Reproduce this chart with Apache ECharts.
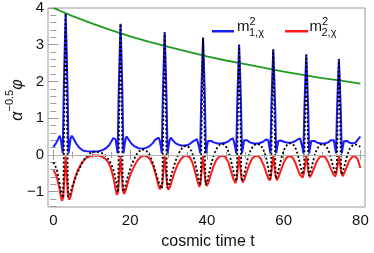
<!DOCTYPE html>
<html><head><meta charset="utf-8">
<script src="https://cdn.jsdelivr.net/npm/echarts@6/dist/echarts.min.js"></script>
<style>html,body{margin:0;padding:0;background:#fff}#c{width:374px;height:253px}</style>
</head><body><div id="c"></div>
<script>
// ---- tick values ----
const xMajor = [0, 20, 40, 60, 80];
const xMinor = [5, 10, 15, 25, 30, 35, 45, 50, 55, 65, 70, 75];
const yMajor = [-1, 0, 1, 2, 3, 4];
const yMinor = [-1.4, -1.2, -0.8, -0.6, -0.4, -0.2, 0.2, 0.4, 0.6, 0.8, 1.2, 1.4, 1.6, 1.8, 2.2, 2.4, 2.6, 2.8, 3.2, 3.4, 3.6, 3.8];

// ---- series data [t, value] ----
const envelope = [[0,4.00],[5,3.78],[10,3.58],[15,3.40],[20,3.23],[25,3.08],[30,2.94],[35,2.81],[40,2.68],[45,2.57],[50,2.47],[55,2.37],[60,2.27],[65,2.18],[70,2.09],[75,2.02],[80,1.94]];

const m1 = [[0,0.22],[0.6,0.3],[1.2,0.42],[1.6,0.52],[1.9,0.45],[2.2,0.22],[2.45,0.04],[2.7,1.73],[2.95,2.89],[3.2,3.85],[3.45,2.89],[3.7,1.73],[3.95,0.04],[4.2,0.22],[4.5,0.45],[4.8,0.52],[5.3,0.43],[6.0,0.3],[6.8,0.19],[7.7,0.12],[8.7,0.095],[9.8,0.09],[10.8,0.09],[11.8,0.1],[12.8,0.13],[13.7,0.18],[14.5,0.26],[15.2,0.38],[15.6,0.46],[15.9,0.5],
[16.2,0.42],[16.5,0.22],[16.75,0.04],[17.0,1.61],[17.25,2.68],[17.5,3.57],[17.75,2.68],[18.0,1.61],[18.25,0.04],[18.5,0.22],[18.8,0.43],[19.1,0.5],[19.6,0.42],[20.3,0.31],[21.2,0.23],[22.2,0.18],[23.2,0.17],[24.2,0.19],[25.1,0.24],[25.9,0.32],[26.5,0.41],[26.9,0.45],[27.4,0.47],
[27.7,0.4],[28.0,0.22],[28.25,0.04],[28.5,1.5],[28.75,2.5],[29.0,3.34],[29.25,2.5],[29.5,1.5],[29.75,0.04],[30.0,0.22],[30.3,0.4],[30.6,0.47],[31.1,0.4],[31.8,0.32],[32.7,0.27],[33.8,0.25],[34.8,0.26],[35.6,0.3],[36.3,0.36],[36.8,0.41],[37.4,0.43],
[37.7,0.38],[38.0,0.2],[38.25,0.04],[38.5,1.44],[38.75,2.39],[39.0,3.19],[39.25,2.39],[39.5,1.44],[39.75,0.04],[40.0,0.2],[40.3,0.38],[40.6,0.43],[41.1,0.38],[41.8,0.34],[42.8,0.31],[43.8,0.31],[44.8,0.33],[45.6,0.37],[46.2,0.42],[46.8,0.45],
[47.1,0.4],[47.4,0.2],[47.65,0.04],[47.9,1.35],[48.15,2.25],[48.4,3.0],[48.65,2.25],[48.9,1.35],[49.15,0.04],[49.4,0.2],[49.7,0.4],[50.0,0.45],[50.5,0.4],[51.2,0.34],[52.2,0.31],[53.2,0.31],[54.0,0.33],[54.8,0.37],[55.4,0.42],[55.7,0.45],
[56.0,0.4],[56.3,0.2],[56.55,0.04],[56.8,1.29],[57.05,2.15],[57.3,2.87],[57.55,2.15],[57.8,1.29],[58.05,0.04],[58.3,0.2],[58.6,0.38],[58.9,0.42],[59.4,0.39],[60.2,0.35],[61.2,0.33],[62.2,0.34],[63.0,0.37],[63.7,0.42],[64.3,0.45],
[64.6,0.4],[64.9,0.2],[65.15,0.04],[65.4,1.23],[65.65,2.05],[65.9,2.73],[66.15,2.05],[66.4,1.23],[66.65,0.04],[66.9,0.2],[67.2,0.38],[67.5,0.42],[68.0,0.38],[68.8,0.33],[69.8,0.31],[70.8,0.31],[71.6,0.34],[72.3,0.4],[72.8,0.45],
[73.1,0.4],[73.4,0.2],[73.65,0.04],[73.9,1.17],[74.15,1.96],[74.4,2.61],[74.65,1.96],[74.9,1.17],[75.15,0.04],[75.4,0.2],[75.7,0.37],[76.0,0.42],[76.5,0.38],[77.2,0.33],[78.0,0.31],[78.8,0.34],[79.4,0.42],[80,0.5]];

const m2 = [[0,-0.42],[0.5,-0.5],[1.0,-0.64],[1.5,-0.88],[1.9,-1.12],[2.25,-1.25],[2.6,-1.15],[2.9,-0.6],[3.2,-0.04],[3.5,-0.6],[3.8,-1.12],[4.15,-1.22],[4.5,-1.13],[5.0,-0.9],[5.6,-0.64],[6.2,-0.46],[6.9,-0.31],[7.6,-0.19],[8.5,-0.09],[9.5,-0.04],[10.5,-0.02],[11.5,-0.02],[12.5,-0.04],[13.5,-0.1],[14.3,-0.2],[15.0,-0.37],[15.6,-0.6],[16.1,-0.88],[16.55,-1.09],[16.9,-1.0],[17.2,-0.5],[17.5,-0.03],[17.8,-0.5],[18.1,-0.98],[18.45,-1.06],[18.9,-0.95],[19.5,-0.72],[20.2,-0.5],[21,-0.32],[21.8,-0.17],[22.7,-0.06],[23.5,-0.02],[24.3,-0.04],[25.2,-0.12],[26,-0.3],[26.7,-0.55],[27.3,-0.8],[27.75,-0.94],[28.05,-0.96],[28.4,-0.8],[28.7,-0.4],[29.0,-0.03],[29.3,-0.4],[29.6,-0.8],[29.95,-0.95],[30.4,-0.88],[31.0,-0.66],[31.7,-0.44],[32.4,-0.26],[33.2,-0.12],[34.0,-0.04],[34.8,-0.02],[35.5,-0.06],[36.2,-0.2],[36.9,-0.45],[37.5,-0.7],[38.05,-0.87],[38.4,-0.72],[38.7,-0.38],[39.0,-0.03],[39.3,-0.38],[39.6,-0.72],[39.95,-0.85],[40.4,-0.76],[41.0,-0.55],[41.7,-0.32],[42.4,-0.15],[43.2,-0.05],[44.0,-0.02],[44.8,-0.06],[45.6,-0.2],[46.3,-0.45],[46.9,-0.66],[47.45,-0.77],[47.8,-0.64],[48.1,-0.33],[48.4,-0.03],[48.7,-0.33],[49.0,-0.63],[49.35,-0.75],[49.8,-0.66],[50.4,-0.46],[51.1,-0.25],[51.8,-0.1],[52.6,-0.03],[53.3,-0.03],[54.0,-0.1],[54.8,-0.28],[55.5,-0.5],[56.0,-0.64],[56.35,-0.7],[56.7,-0.58],[57.0,-0.3],[57.3,-0.03],[57.6,-0.3],[57.9,-0.58],[58.25,-0.69],[58.7,-0.6],[59.3,-0.42],[60.0,-0.22],[60.7,-0.08],[61.5,-0.03],[62.3,-0.07],[63.0,-0.2],[63.7,-0.4],[64.3,-0.55],[64.95,-0.62],[65.3,-0.5],[65.6,-0.26],[65.9,-0.03],[66.2,-0.26],[66.5,-0.5],[66.85,-0.61],[67.3,-0.53],[67.9,-0.37],[68.6,-0.19],[69.3,-0.07],[70.1,-0.03],[70.9,-0.07],[71.6,-0.2],[72.3,-0.38],[72.9,-0.52],[73.45,-0.59],[73.8,-0.48],[74.1,-0.25],[74.4,-0.03],[74.7,-0.25],[75.0,-0.48],[75.35,-0.58],[75.8,-0.5],[76.4,-0.34],[77.1,-0.16],[77.8,-0.06],[78.6,-0.03],[79.3,-0.12],[80,-0.36]];

const phi = [[0,-0.2],[0.5,-0.3],[1.0,-0.45],[1.5,-0.7],[2.0,-1.0],[2.5,-1.17],[2.65,-0.58],[2.85,1.15],[3.05,2.77],[3.2,3.85],[3.35,2.77],[3.55,1.15],[3.75,-0.57],[3.9,-1.15],[4.3,-1.08],[4.8,-0.9],[5.4,-0.72],[6.0,-0.56],[6.7,-0.39],[7.4,-0.24],[8.2,-0.1],[9.0,0.0],[9.9,0.07],[11.0,0.09],[12.2,0.07],[13.2,0.02],[14.0,-0.07],[14.8,-0.2],[15.5,-0.36],[16.1,-0.6],[16.5,-0.85],
[16.8,-1.02],[16.95,-0.51],[17.15,1.07],[17.35,2.57],[17.5,3.57],[17.65,2.57],[17.85,1.07],[18.05,-0.5],[18.2,-1.0],[18.6,-0.92],[19.1,-0.7],[19.7,-0.48],[20.4,-0.27],[21.2,-0.08],[22.1,0.08],[23.1,0.15],[24.0,0.13],[24.8,0.05],[25.5,-0.1],[26.2,-0.3],[26.9,-0.55],[27.6,-0.8],
[28.3,-0.92],[28.45,-0.46],[28.65,1.0],[28.85,2.4],[29.0,3.34],[29.15,2.4],[29.35,1.0],[29.55,-0.45],[29.7,-0.9],[30.1,-0.82],[30.6,-0.6],[31.2,-0.38],[31.9,-0.15],[32.7,0.05],[33.6,0.2],[34.5,0.25],[35.3,0.21],[36.0,0.1],[36.7,-0.12],[37.4,-0.42],[37.9,-0.7],
[38.3,-0.83],[38.45,-0.42],[38.65,0.96],[38.85,2.3],[39.0,3.19],[39.15,2.3],[39.35,0.96],[39.55,-0.41],[39.7,-0.82],[40.1,-0.72],[40.6,-0.48],[41.2,-0.22],[41.9,0.02],[42.7,0.2],[43.4,0.28],[44.1,0.3],[44.8,0.26],[45.5,0.12],[46.1,-0.08],[46.7,-0.35],[47.2,-0.58],
[47.7,-0.72],[47.85,-0.36],[48.05,0.9],[48.25,2.16],[48.4,3.0],[48.55,2.16],[48.75,0.9],[48.95,-0.36],[49.1,-0.72],[49.5,-0.62],[50.0,-0.4],[50.6,-0.12],[51.3,0.1],[52.1,0.25],[53.0,0.3],[53.9,0.28],[54.6,0.17],[55.3,-0.02],[55.9,-0.3],[56.3,-0.55],
[56.6,-0.66],[56.75,-0.33],[56.95,0.86],[57.15,2.07],[57.3,2.87],[57.45,2.07],[57.65,0.86],[57.85,-0.33],[58.0,-0.65],[58.4,-0.55],[58.9,-0.32],[59.5,-0.05],[60.2,0.16],[61.0,0.29],[61.8,0.32],[62.6,0.27],[63.3,0.14],[63.9,-0.08],[64.5,-0.35],[64.9,-0.54],
[65.2,-0.58],[65.35,-0.29],[65.55,0.82],[65.75,1.97],[65.9,2.73],[66.05,1.97],[66.25,0.82],[66.45,-0.29],[66.6,-0.57],[67.0,-0.47],[67.5,-0.25],[68.1,0.0],[68.8,0.18],[69.6,0.28],[70.4,0.3],[71.2,0.22],[71.9,0.06],[72.5,-0.16],[73.1,-0.4],[73.45,-0.53],
[73.7,-0.55],[73.85,-0.28],[74.05,0.78],[74.25,1.88],[74.4,2.61],[74.55,1.88],[74.75,0.78],[74.95,-0.27],[75.1,-0.54],[75.5,-0.45],[76.0,-0.24],[76.6,0.0],[77.3,0.18],[78.1,0.27],[79.0,0.28],[80,0.22]];

const X_MIN = -1.4, X_MAX = 81.2, Y_MIN = -1.42, Y_MAX = 4;
const FONT = 'Liberation Sans, Arial, sans-serif';
const TICK = '#999';

function xAx(pos, vals, len, labels) {
  return {type:'value', min:X_MIN, max:X_MAX, position:pos,
    axisLine:{show:false}, splitLine:{show:false},
    axisTick:{show:true, inside:true, length:len, customValues:vals, lineStyle:{color:TICK, width:1}},
    axisLabel:{show:labels, customValues:vals, fontSize:15, color:'#111', margin:6, fontFamily:FONT}};
}
function yAx(pos, vals, len, labels) {
  return {type:'value', min:Y_MIN, max:Y_MAX, position:pos,
    axisLine:{show:false}, splitLine:{show:false},
    axisTick:{show:true, inside:true, length:len, customValues:vals, lineStyle:{color:TICK, width:1}},
    axisLabel:{show:labels, customValues:vals, fontSize:15, color:'#111', margin:4, fontFamily:FONT,
      formatter: v => (v < 0 ? '\u2212' + Math.abs(v) : String(v))}};
}

const chart = echarts.init(document.getElementById('c'), null, {renderer:'canvas'});
chart.setOption({
  animation:false,
  grid:{left:48, right:9, top:8, bottom:46, show:true, borderColor:'#999', borderWidth:1, backgroundColor:'transparent', outerBoundsMode:'none', containLabel:false},
  xAxis:[xAx('bottom', xMajor, 5, true), xAx('bottom', xMinor, 3, false), xAx('top', xMajor, 5, false), xAx('top', xMinor, 3, false)],
  yAxis:[yAx('left', yMajor, 5, true), yAx('left', yMinor, 3, false), yAx('right', yMajor, 5, false), yAx('right', yMinor, 3, false)],
  legend:[
    {data:['m1'], left:207, top:25, icon:'rect', itemWidth:22, itemHeight:2.5, formatter:()=>'', selectedMode:false},
    {data:['m2'], left:280, top:25, icon:'rect', itemWidth:23, itemHeight:2.5, formatter:()=>'', selectedMode:false}
  ],
  series:[
    {name:'env', type:'line', data:envelope, showSymbol:false, symbol:'none', z:1,
      lineStyle:{color:'#1f9a1f', width:1.8},
      markLine:{silent:true, symbol:['none','none'], label:{show:false}, lineStyle:{color:'#b0b0b0', width:1, type:'solid'}, data:[{yAxis:0}]}},
    {name:'m1', type:'line', data:m1, showSymbol:false, symbol:'none', z:2, color:'#1a1aff',
      lineStyle:{color:'#1a1aff', width:2}},
    {name:'m2', type:'line', data:m2, showSymbol:false, symbol:'none', z:3, color:'#ff1a1a',
      lineStyle:{color:'#ff1a1a', width:2}},
    {name:'phi', type:'line', data:phi, showSymbol:false, symbol:'none', z:4,
      lineStyle:{color:'#000', width:1.8, type:[2,2.2]}}
  ],
  graphic:[
    {type:'text', x:237, y:27, style:{text:'m', font:'15px ' + FONT, fill:'#111', verticalAlign:'middle'}},
    {type:'text', x:249.5, y:21.5, style:{text:'2', font:'11px ' + FONT, fill:'#111', verticalAlign:'middle'}},
    {type:'text', x:249, y:33, style:{text:'1,\u03C7', font:'11px ' + FONT, fill:'#111', verticalAlign:'middle'}},
    {type:'text', x:309.5, y:27, style:{text:'m', font:'15px ' + FONT, fill:'#111', verticalAlign:'middle'}},
    {type:'text', x:322, y:21.5, style:{text:'2', font:'11px ' + FONT, fill:'#111', verticalAlign:'middle'}},
    {type:'text', x:321.5, y:33, style:{text:'2,\u03C7', font:'11px ' + FONT, fill:'#111', verticalAlign:'middle'}},
    {type:'text', x:208, y:242, style:{text:'cosmic time t', font:'16px ' + FONT, fill:'#111', align:'center', verticalAlign:'middle'}},
    {type:'text', x:15, y:100, rotation:Math.PI/2, style:{
      text:'{a|\u03B1}{s|\u22120.5}{a|\u03C6}', align:'center', verticalAlign:'middle', fill:'#111',
      rich:{a:{fontSize:16, fontStyle:'italic', fontFamily:FONT, lineHeight:22, verticalAlign:'bottom', fill:'#111'},
            s:{fontSize:11, fontFamily:FONT, lineHeight:22, verticalAlign:'top', fill:'#111'}}}}
  ]
});
</script></body></html>
